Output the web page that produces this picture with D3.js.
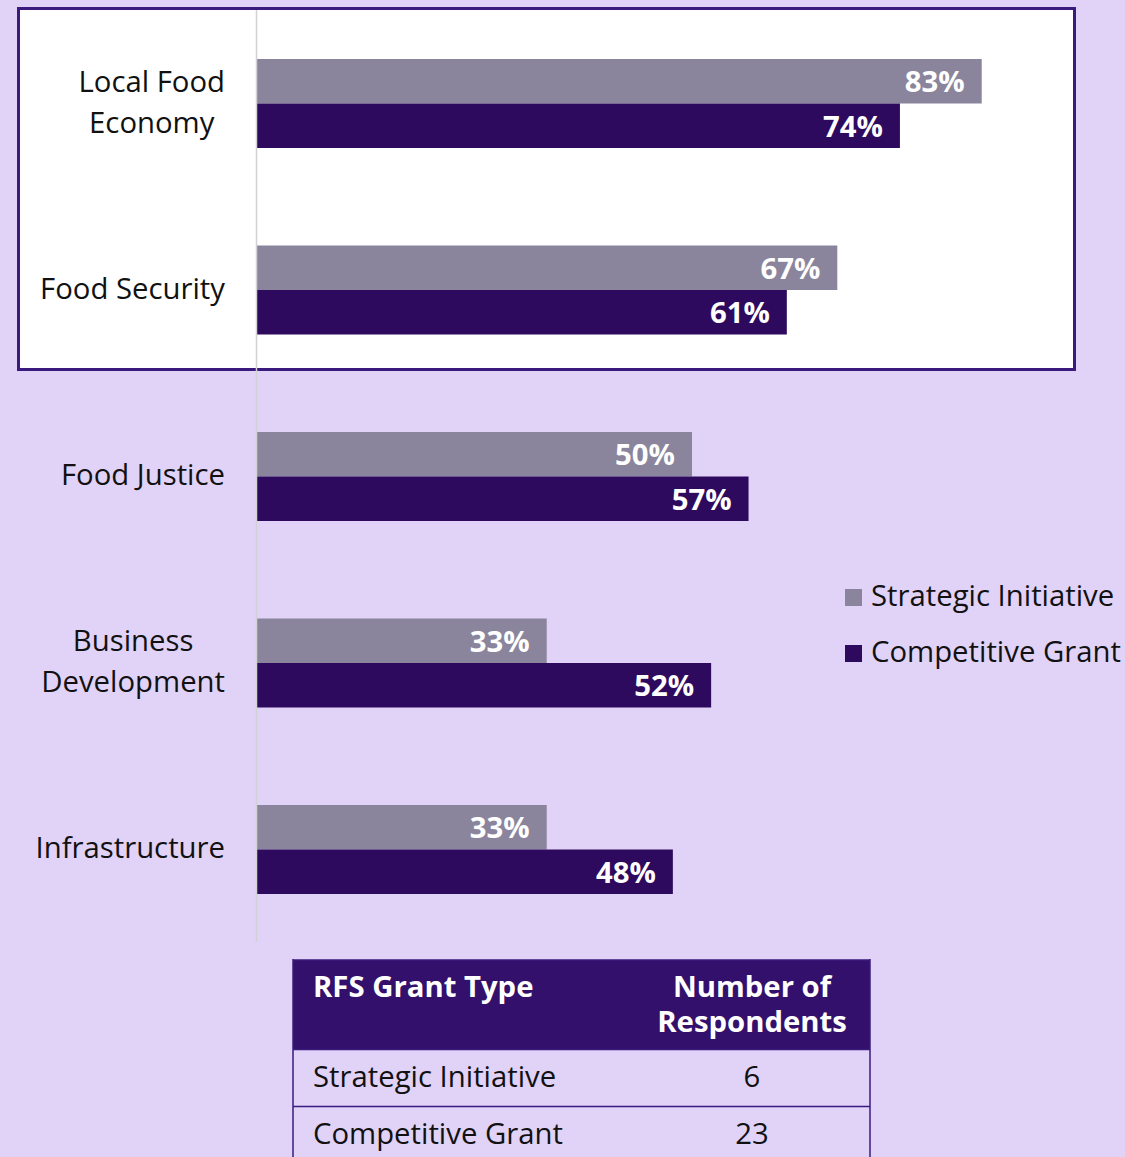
<!DOCTYPE html>
<html lang="en">
<head>
    <meta charset="UTF-8">
    <title>RFS Grant Type chart</title>
    <script src="https://cdn.jsdelivr.net/npm/d3@7"></script>
    <style>
        body { margin: 0; background: #e1d2f8; }
        svg { display: block; font-family: "Open Sans", sans-serif; }
    </style>
</head>
<body>
<script>
    // data
    var categories = ["Local Food\nEconomy", "Food Security", "Food Justice", "Business\nDevelopment", "Infrastructure"];
    var seriesNames = ["Strategic Initiative", "Competitive Grant"];
    var strategic = [83.3, 66.7, 50.0, 33.3, 33.3];
    var competitive = [73.9, 60.9, 56.5, 52.2, 47.8];
    var tableHeader = ["RFS Grant Type", "Number of\nRespondents"];
    var tableTypes = ["Strategic Initiative", "Competitive Grant"];
    var tableCounts = [6, 23];

    var colors = ["#8a859c", "#2e0a5e"];
    var fs = "29.3px";

    var width = 1125, height = 1157;

    var svg = d3.select("body").append("svg")
        .attr("width", width)
        .attr("height", height);

    var x = d3.scaleLinear().domain([0, 100]).range([257, 257 + 870]);

    var y = d3.scaleBand()
        .domain(categories)
        .range([59, 894])
        .paddingInner(0.5228)
        .paddingOuter(0);

    var ySub = d3.scaleBand()
        .domain(seriesNames)
        .range([0, y.bandwidth()]);

    // highlight box around the first two categories
    svg.append("rect")
        .attr("x", 18.5)
        .attr("y", 8.5)
        .attr("width", 1056)
        .attr("height", 361)
        .attr("fill", "#ffffff")
        .attr("stroke", "#3a1a7c")
        .attr("stroke-width", 3);

    var rows = categories.map(function (c, i) {
        return { cat: c, values: [strategic[i], competitive[i]] };
    });

    var group = svg.selectAll(".grp")
        .data(rows)
        .enter().append("g")
        .attr("class", "grp")
        .attr("transform", function (d) { return "translate(0," + y(d.cat) + ")"; });

    var bars = group.selectAll(".bar")
        .data(function (d) {
            return d.values.map(function (v, j) { return { name: seriesNames[j], value: v, j: j }; });
        })
        .enter();

    bars.append("rect")
        .attr("class", "bar")
        .attr("x", x(0))
        .attr("y", function (d) { return ySub(d.name); })
        .attr("width", function (d) { return x(d.value) - x(0); })
        .attr("height", ySub.bandwidth())
        .attr("fill", function (d) { return colors[d.j]; });

    bars.append("text")
        .attr("x", function (d) { return x(d.value) - 17; })
        .attr("y", function (d) { return ySub(d.name) + ySub.bandwidth() / 2 + 11; })
        .attr("text-anchor", "end")
        .attr("fill", "#ffffff")
        .style("font-weight", "bold")
        .style("font-size", fs)
        .text(function (d) { return Math.round(d.value) + "%"; });

    // category labels (multi-line ones are centred on their longest line)
    group.each(function (d) {
        var lines = d.cat.split("\n");
        var g = d3.select(this);
        var t = g.append("text")
            .attr("fill", "#111111")
            .style("font-size", fs);
        var lh = 41;
        var top = y.bandwidth() / 2 - (lines.length - 1) * lh / 2 + 9;
        lines.forEach(function (l, k) {
            t.append("tspan").attr("x", 225).attr("y", top + k * lh).text(l);
        });
        if (lines.length > 1) {
            var w = d3.max(t.selectAll("tspan").nodes(), function (n) { return n.getComputedTextLength(); });
            t.attr("text-anchor", "middle").selectAll("tspan").attr("x", 225 - w / 2);
        } else {
            t.attr("text-anchor", "end");
        }
    });

    // axis line
    svg.append("line")
        .attr("x1", 256.5).attr("x2", 256.5)
        .attr("y1", 10).attr("y2", 942)
        .attr("stroke", "#d2d2d6")
        .attr("stroke-width", 1.5);

    // legend
    var legend = svg.selectAll(".legend")
        .data(seriesNames)
        .enter().append("g")
        .attr("class", "legend")
        .attr("transform", function (d, i) { return "translate(845," + (589 + i * 56) + ")"; });

    legend.append("rect")
        .attr("width", 17).attr("height", 17)
        .attr("fill", function (d, i) { return colors[i]; });

    legend.append("text")
        .attr("x", 26).attr("y", 17)
        .attr("fill", "#111111")
        .style("font-size", fs)
        .text(function (d) { return d; });

    // respondents table
    var tx0 = 293, tx1 = 870, colC = 752;
    var table = svg.append("g");

    table.append("rect")
        .attr("x", tx0).attr("y", 960)
        .attr("width", tx1 - tx0).attr("height", 89)
        .attr("fill", "#33106b");

    var head = table.append("g")
        .attr("fill", "#ffffff")
        .style("font-weight", "bold")
        .style("font-size", fs);

    head.append("text").attr("x", 313).attr("y", 997).text(tableHeader[0]);
    var h2 = head.append("text").attr("text-anchor", "middle");
    tableHeader[1].split("\n").forEach(function (l, k) {
        h2.append("tspan").attr("x", colC).attr("y", 997 + k * 35).text(l);
    });

    var rowH = 57;
    tableTypes.forEach(function (t, i) {
        var ry = 1049 + i * rowH;
        table.append("line")
            .attr("x1", tx0).attr("x2", tx1)
            .attr("y1", ry + 0.5).attr("y2", ry + 0.5)
            .attr("stroke", "#3a1a7c").attr("stroke-width", 1.5);
        table.append("text")
            .attr("x", 313).attr("y", ry + 38)
            .attr("fill", "#111111")
            .style("font-size", fs)
            .text(t);
        table.append("text")
            .attr("x", colC).attr("y", ry + 38)
            .attr("text-anchor", "middle")
            .attr("fill", "#111111")
            .style("font-size", fs)
            .text(tableCounts[i]);
    });

    [tx0, tx1].forEach(function (xx) {
        table.append("line")
            .attr("x1", xx).attr("x2", xx)
            .attr("y1", 959).attr("y2", height)
            .attr("stroke", "#3a1a7c").attr("stroke-width", 1.5);
    });
    table.append("line")
        .attr("x1", tx0).attr("x2", tx1)
        .attr("y1", 960).attr("y2", 960)
        .attr("stroke", "#3a1a7c").attr("stroke-width", 1.5);
</script>
</body>
</html>
